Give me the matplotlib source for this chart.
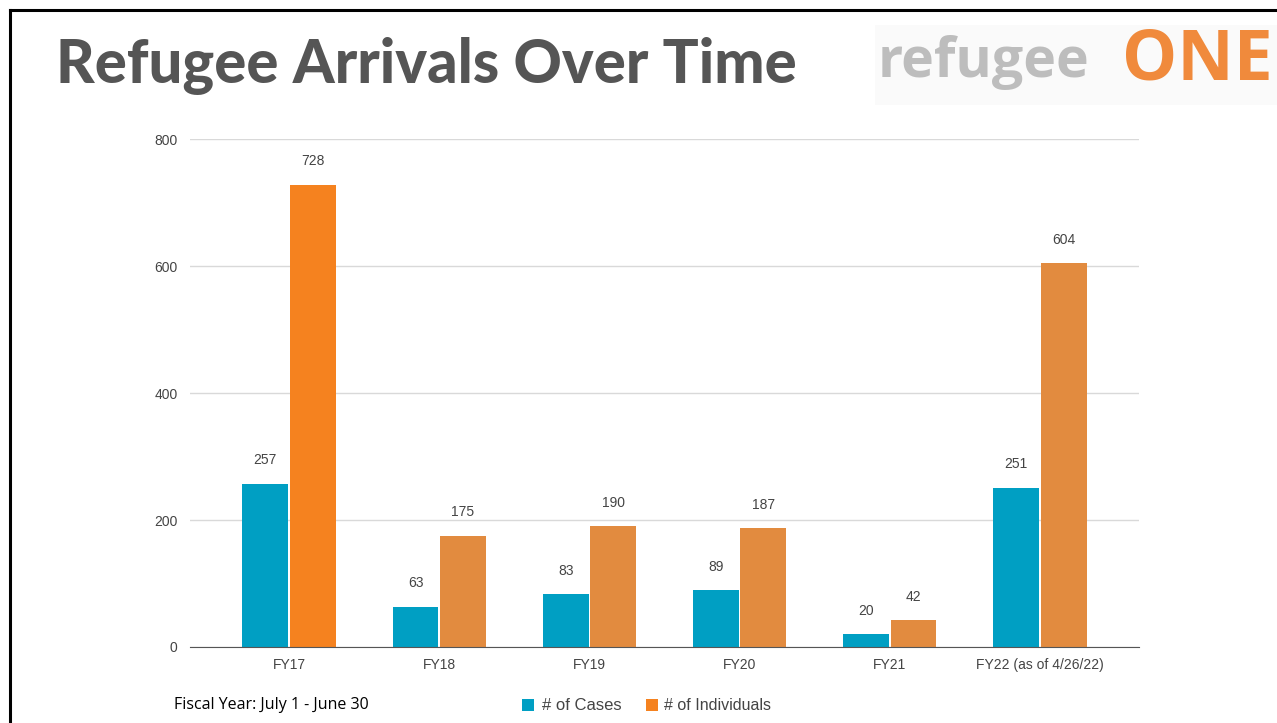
import matplotlib
matplotlib.use('Agg')
import matplotlib.pyplot as plt
from matplotlib.patches import Rectangle
import numpy as np

# 数据
categories = ['FY17', 'FY18', 'FY19', 'FY20', 'FY21', 'FY22 (as of 4/26/22)']
cases = [257, 63, 83, 89, 20, 251]
individuals = [728, 175, 190, 187, 42, 604]
y_ticks = [0, 200, 400, 600, 800]

teal = '#009FC3'
orange_hi = '#F5821F'
orange = '#E28B3F'
ind_colors = [orange_hi] + [orange] * 5

W, H = 1277, 723
fig = plt.figure(figsize=(W / 100, H / 100), dpi=100)
fig.patch.set_facecolor('white')

# 外框 (左边和上边的黑线)
fig.add_artist(plt.Line2D([10 / W, 10 / W], [0, 1 - 10 / H], color='black', lw=2.2,
                          transform=fig.transFigure))
fig.add_artist(plt.Line2D([10 / W, 1], [1 - 10 / H, 1 - 10 / H], color='black', lw=2.2,
                          transform=fig.transFigure))

# 标题
fig.text(56 / W, 1 - 66 / H, 'Refugee Arrivals Over Time', fontsize=43, fontweight='black',
         color='#555555', family=['Lato', 'DejaVu Sans'], va='center', ha='left')

# logo
fig.add_artist(Rectangle((875 / W, 1 - 105 / H), (W - 875) / W, 80 / H,
                         transform=fig.transFigure, facecolor='#FAFAFA', edgecolor='none'))
fig.text(878 / W, 1 - 62 / H, 'refugee', fontsize=40, fontweight='bold', color='#BDBDBD',
         family=['Open Sans', 'DejaVu Sans'], va='center', ha='left')
fig.text(1273 / W, 1 - 62 / H, 'ONE', fontsize=50, fontweight='bold', color='#F08A3C',
         family=['Open Sans', 'DejaVu Sans'], va='center', ha='right')

# 主图
ax = fig.add_axes([190 / W, 1 - 647 / H, (1139 - 190) / W, (647 - 139) / H])
x = np.arange(len(categories))
bw = 0.305
off = 0.158
ax.bar(x - off, cases, width=bw, color=teal, zorder=3)
ax.bar(x + off, individuals, width=bw, color=ind_colors, zorder=3)

for i in range(len(categories)):
    ax.annotate(str(cases[i]), (x[i] - off, cases[i]), xytext=(0, 17), textcoords='offset points',
                ha='center', va='center', fontsize=10, color='#444444', family='Liberation Sans')
    ax.annotate(str(individuals[i]), (x[i] + off, individuals[i]), xytext=(0, 17),
                textcoords='offset points', ha='center', va='center', fontsize=10,
                color='#444444', family='Liberation Sans')

ax.set_xlim(-0.66, len(categories) - 1 + 0.66)
ax.set_ylim(0, 800)
ax.set_yticks(y_ticks)
ax.set_xticks(x)
ax.set_xticklabels(categories)
for lab in ax.get_xticklabels() + ax.get_yticklabels():
    lab.set_family('Liberation Sans')
    lab.set_fontsize(10)
    lab.set_color('#444444')
ax.tick_params(axis='both', length=0)
ax.tick_params(axis='y', pad=9)
ax.tick_params(axis='x', pad=8)
ax.grid(axis='y', color='#D9D9D9', lw=1, zorder=0)
for s in ['top', 'right', 'left']:
    ax.spines[s].set_visible(False)
ax.spines['bottom'].set_color('#555555')
ax.spines['bottom'].set_zorder(4)

# 底部说明与图例
fig.text(174 / W, 1 - 705 / H, 'Fiscal Year: July 1 - June 30', fontsize=11.5,
         family=['Open Sans', 'DejaVu Sans'], color='black', va='center', ha='left')
fig.add_artist(Rectangle((522 / W, 1 - 711 / H), 12 / W, 12 / H, transform=fig.transFigure,
                         facecolor=teal, edgecolor='none'))
fig.text(542 / W, 1 - 705 / H, '# of Cases', fontsize=12,
         family=['Liberation Sans Narrow', 'Liberation Sans'], color='#444444', va='center')
fig.add_artist(Rectangle((646 / W, 1 - 711 / H), 12 / W, 12 / H, transform=fig.transFigure,
                         facecolor=orange_hi, edgecolor='none'))
fig.text(664 / W, 1 - 705 / H, '# of Individuals', fontsize=11.5,
         family=['Liberation Sans Narrow', 'Liberation Sans'], color='#444444', va='center')

fig.savefig('out.png', dpi=100)
